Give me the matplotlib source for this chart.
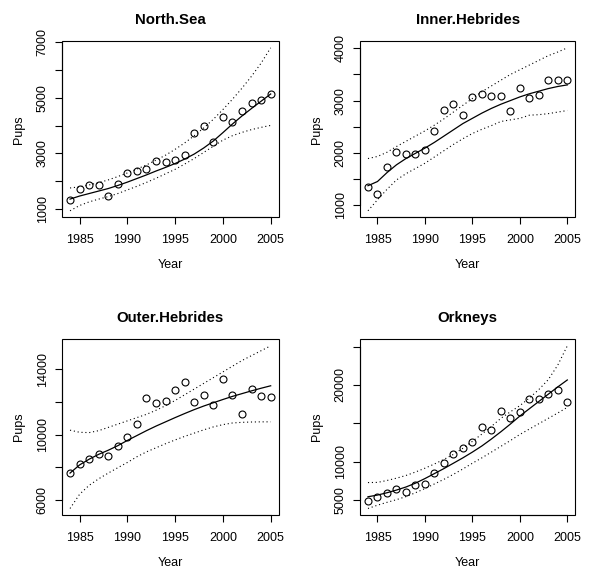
import matplotlib
matplotlib.use("Agg")
import matplotlib.pyplot as plt
import numpy as np

plt.rcParams['font.family'] = ['Liberation Sans', 'DejaVu Sans']

years = list(range(1984, 2006))

north_sea = [1340, 1730, 1850, 1880, 1480, 1920, 2300, 2380, 2450, 2730, 2680, 2780,
             2960, 3720, 4000, 3400, 4320, 4140, 4520, 4820, 4940, 5140]
inner_heb = [1346, 1218, 1737, 2013, 1974, 1974, 2051, 2423, 2821, 2936, 2720, 3064,
             3135, 3090, 3090, 2801, 3237, 3045, 3103, 3397, 3397, 3397]
outer_heb = [7650, 8206, 8515, 8804, 8722, 9320, 9835, 10660, 12227, 11938, 12082, 12742,
             13216, 11979, 12454, 11814, 13443, 12454, 11299, 12784, 12392, 12330]
orkneys = [4860, 5340, 5960, 6490, 6050, 6970, 7150, 8510, 9830, 10970, 11720, 12600,
           14490, 14180, 16560, 15680, 16510, 18140, 18140, 18840, 19330, 17830]

# fitted values
north_fit = [1360, 1470, 1560, 1650, 1740, 1850, 1970, 2100, 2230, 2370, 2500, 2640,
             2800, 2980, 3200, 3450, 3750, 4060, 4350, 4620, 4880, 5140]
inner_fit = [1370, 1450, 1620, 1770, 1890, 1990, 2090, 2200, 2320, 2440, 2560, 2660,
             2760, 2850, 2930, 3000, 3070, 3130, 3180, 3230, 3270, 3300]
outer_fit = [7650, 8150, 8500, 8800, 9050, 9330, 9650, 9950, 10250, 10530, 10790, 11050,
             11300, 11540, 11760, 11960, 12160, 12350, 12520, 12690, 12850, 13000]
ork_fit = [5430, 5650, 5950, 6300, 6700, 7200, 7800, 8450, 9100, 9800, 10500, 11250,
           12050, 12950, 13900, 14900, 15950, 16900, 17850, 18800, 19750, 20650]

# upper / lower bounds
north_up = [1760, 1800, 1870, 1950, 2050, 2170, 2300, 2440, 2590, 2760, 2940, 3150,
            3380, 3640, 3920, 4230, 4580, 4950, 5350, 5780, 6250, 6800]
north_lo = [940, 1130, 1260, 1360, 1450, 1560, 1690, 1820, 1960, 2110, 2270, 2430,
            2620, 2820, 3040, 3260, 3480, 3640, 3760, 3860, 3940, 4010]
inner_up = [1890, 1930, 2010, 2120, 2220, 2320, 2420, 2530, 2650, 2780, 2910, 3040,
            3170, 3280, 3390, 3500, 3590, 3680, 3770, 3860, 3930, 4010]
inner_lo = [890, 1100, 1300, 1480, 1600, 1700, 1800, 1920, 2040, 2160, 2270, 2370,
            2450, 2520, 2600, 2630, 2660, 2720, 2730, 2750, 2780, 2810]
outer_up = [10280, 10150, 10130, 10250, 10450, 10650, 10850, 11050, 11250, 11500, 11780, 12100,
            12450, 12800, 13150, 13500, 13850, 14200, 14550, 14850, 15150, 15450]
outer_lo = [5480, 6350, 6900, 7300, 7650, 7980, 8300, 8650, 8950, 9200, 9450, 9680,
            9900, 10100, 10300, 10480, 10620, 10720, 10760, 10780, 10790, 10790]
ork_up = [7280, 7300, 7550, 7850, 8200, 8650, 9150, 9700, 10300, 10950, 11750, 12650,
          13600, 14600, 15650, 16500, 17300, 18300, 19400, 20700, 22600, 25100]
ork_lo = [3900, 4330, 4700, 5050, 5450, 5950, 6500, 7100, 7700, 8350, 9050, 9800,
          10500, 11250, 12000, 12750, 13550, 14250, 14950, 15650, 16350, 17080]

titles = ["North.Sea", "Inner.Hebrides", "Outer.Hebrides", "Orkneys"]
obs = [north_sea, inner_heb, outer_heb, orkneys]
fits = [north_fit, inner_fit, outer_fit, ork_fit]
ups = [north_up, inner_up, outer_up, ork_up]
los = [north_lo, inner_lo, outer_lo, ork_lo]
yticks = [[1000, 2000, 3000, 4000, 5000, 6000, 7000],
          [1000, 1500, 2000, 2500, 3000, 3500, 4000],
          [6000, 8000, 10000, 12000, 14000],
          [5000, 10000, 15000, 20000, 25000]]
ylabels_shown = [[1000, 3000, 5000, 7000],
                 [1000, 2000, 3000, 4000],
                 [6000, 10000, 14000],
                 [5000, 10000, 20000]]

W, H = 592, 574
fig = plt.figure(figsize=(W / 100, H / 100), dpi=100)

# axes boxes in pixels: left, top, right, bottom
boxes = [(62, 41.3, 278.7, 217.3), (360, 41.3, 575.3, 217.3),
         (62, 339.3, 278.7, 515), (360, 339.3, 575.3, 515)]

for i in range(4):
    l, t, r, b = boxes[i]
    ax = fig.add_axes([l / W, 1 - b / H, (r - l) / W, (b - t) / H])
    ax.plot(years, obs[i], 'o', mfc='none', mec='black', ms=5, mew=0.8)
    ax.plot(years, fits[i], '-', color='black', lw=0.9)
    ax.plot(years, ups[i], color='black', lw=0.8, dashes=(1, 2.5))
    ax.plot(years, los[i], color='black', lw=0.8, dashes=(1, 2.5))
    ax.margins(x=0.04, y=0.04)
    ax.set_xticks([1985, 1990, 1995, 2000, 2005])
    ax.set_yticks(yticks[i])
    ax.set_yticklabels([str(v) if v in ylabels_shown[i] else '' for v in yticks[i]],
                       rotation=90, va='center')
    ax.tick_params(length=5.2, width=0.8, labelsize=9)
    ax.tick_params(axis='x', pad=6.7)
    ax.tick_params(axis='y', pad=4.3)
    ax.spines['left'].set_bounds(min(yticks[i]), max(yticks[i]))
    ax.spines['bottom'].set_bounds(1985, 2005)
    for s in ['top', 'right']:
        ax.spines[s].set_visible(False)
    for s in ax.spines.values():
        s.set_linewidth(0.8)
    ax.set_xlabel("Year", fontsize=9, labelpad=9.5)
    ax.set_ylabel("Pups", fontsize=9, labelpad=8.5)
    ax.set_title(titles[i], fontsize=10.8, fontweight='bold', pad=12.5)
    # R-style box around plot region
    ax.add_patch(plt.Rectangle((0, 0), 1, 1, transform=ax.transAxes, fill=False,
                               lw=0.8, ec='black', clip_on=False))

fig.savefig("out.png", dpi=100)
